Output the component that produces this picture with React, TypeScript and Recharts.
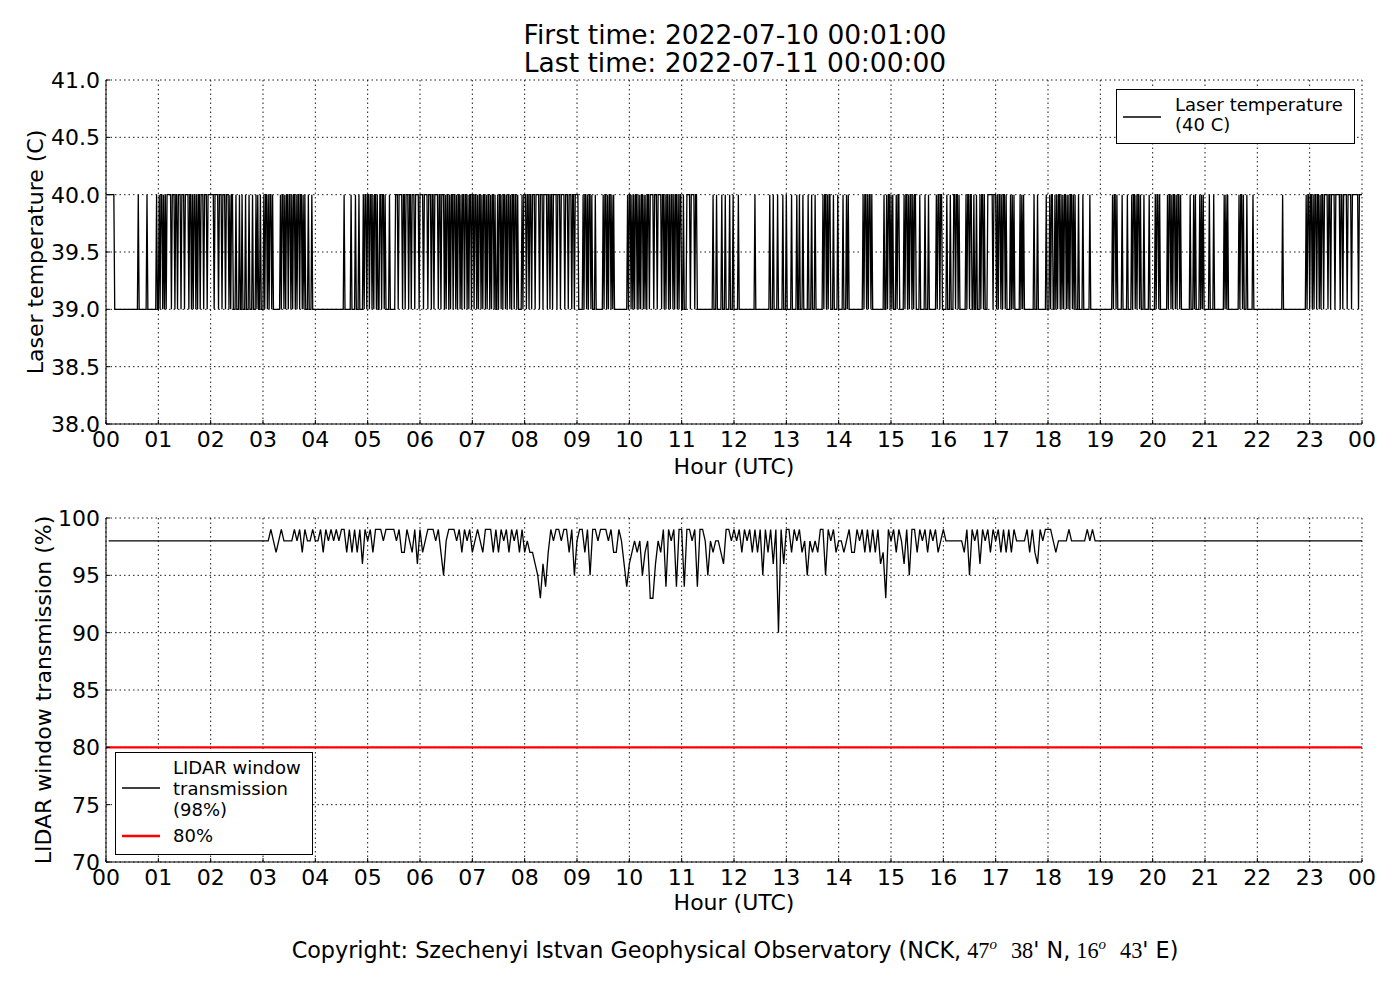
import { LineChart, Line, XAxis, YAxis, CartesianGrid, ReferenceLine, Legend } from 'recharts';

// one string per hour, one char per minute: '1' = 40 C, '0' = 39 C
const tempRows = [
  '111111111000000000000000000000000000100000000010000000000100',
  '101101010111110111011011101110111101101011010110111011101111',
  '111011110111011101110101100010001001000100010001000101001000',
  '101101011010000000010110101101101011010110110101000100010000',
  '000000000000000000000000000000001000000010000100010000101101',
  '101101011010011011010000100000011101111011011101101110111101',
  '111011110111011011110110111010110101101101011010110110101101',
  '101101011010110101101011010010110101101011010110110100001011',
  '101101101110111101110111101101101111011101111011101110110111',
  '100000101101011010001000000001011010110101000000000000000101',
  '101010110101011010101101111011101111011010110101101011010110',
  '010001111011110110000000000000000001000100000100010000100010',
  '000010000000000000000001000000000000000010001000010000010001',
  '000001000001001000100000100010001000000001011010110001000010',
  '000010001010000000000000000101101011010000000000000100101101',
  '010001011000001011010110101100001000001000100000000101101100',
  '000100010001101101000000010110110010010001011010001111110111',
  '010110101101000010101000000101010000000000010001000000000100',
  '010110010101101010110101011010100010000100000001000000000000',
  '000000000000010110100000100000100001011010110100010000010000',
  '001011010000000010110101101011010000000000100010100001010100',
  '000010000100000000000101010000000000001011010001000000100000',
  '000000000000000000000000000010000000000000000000000000010110',
  '110101101101011011110110111101111101101111011110111111101111',
];

// one string per hour, one char per 3 minutes: digit = transmission - 90 (%)
const transRows = [
  '88888888888888888888',
  '88888888888888888888',
  '88888888888888888888',
  '88987898888989798898',
  '89798989899797979698',
  '97999899998977987969',
  '78999897589998979897',
  '89879997979897989797',
  '87765364798998997958',
  '99795998999897798646',
  '78785783368794989499',
  '49989499858788769989',
  '89798979795979690969',
  '97989785878799598978',
  '87897798979797967398',
  '97986959979897989789',
  '88888887959896989798',
  '97979798888979769899',
  '98788889888888989888',
  '88888888888888888888',
  '88888888888888888888',
  '88888888888888888888',
  '88888888888888888888',
  '88888888888888888888',
];

const hourTicks = [0, 1, 2, 3, 4, 5, 6, 7, 8, 9, 10, 11, 12, 13, 14, 15, 16, 17, 18, 19, 20, 21, 22, 23, 24];
const tempTicks = [38, 38.5, 39, 39.5, 40, 40.5, 41];
const transTicks = [70, 75, 80, 85, 90, 95, 100];
const transThreshold = 80;

const toSeries = (rows: string[], base: number) =>
  rows.flatMap((row, h) =>
    row.split('').map((c, i) => ({ t: h + (i + 1) / row.length, v: base + Number(c) }))
  );

const tempData = toSeries(tempRows, 39);
const transData = toSeries(transRows, 90);

const FONT = '"DejaVu Sans", sans-serif';
const SERIF = '"Liberation Serif", serif';
const hourLabel = (h: number) => String(h % 24).padStart(2, '0');

const BottomTick = ({ x, y, payload }: any) => (
  <g>
    <line x1={x} y1={y} x2={x} y2={y - 4} stroke="#000" strokeWidth={1} />
    <text x={x} y={y + 23} textAnchor="middle" fontSize={22} fontFamily={FONT} fill="#000">
      {hourLabel(payload.value)}
    </text>
  </g>
);

const TopTick = ({ x, y }: any) => <line x1={x} y1={y} x2={x} y2={y + 4} stroke="#000" strokeWidth={1} />;

const RightTick = ({ x, y }: any) => <line x1={x} y1={y} x2={x - 4} y2={y} stroke="#000" strokeWidth={1} />;

const makeLeftTick = (fmt: (v: number) => string) => ({ x, y, payload }: any) => (
  <g>
    <line x1={x} y1={y} x2={x + 4} y2={y} stroke="#000" strokeWidth={1} />
    <text x={x - 6} y={y} dy="0.36em" textAnchor="end" fontSize={22} fontFamily={FONT} fill="#000">
      {fmt(payload.value)}
    </text>
  </g>
);

const TempTick = makeLeftTick((v) => v.toFixed(1));
const TransTick = makeLeftTick((v) => String(v));

const TempLegend = () => (
  <svg width={240} height={56} style={{ display: 'block' }}>
    <rect x={0.5} y={0.5} width={238} height={54} fill="#fff" stroke="#000" />
    <line x1={7} y1={28} x2={45} y2={28} stroke="#000" strokeWidth={1.4} />
    <text x={59} y={22} fontSize={18} fontFamily={FONT}>Laser temperature</text>
    <text x={59} y={42} fontSize={18} fontFamily={FONT}>(40 C)</text>
  </svg>
);

const TransLegend = () => (
  <svg width={200} height={104} style={{ display: 'block' }}>
    <rect x={0.5} y={0.5} width={197} height={102} fill="#fff" stroke="#000" />
    <line x1={7} y1={36} x2={45} y2={36} stroke="#000" strokeWidth={1.4} />
    <text x={58} y={22} fontSize={18} fontFamily={FONT}>LIDAR window</text>
    <text x={58} y={43} fontSize={18} fontFamily={FONT}>transmission</text>
    <text x={58} y={64} fontSize={18} fontFamily={FONT}>(98%)</text>
    <line x1={7} y1={84} x2={45} y2={84} stroke="#ff0000" strokeWidth={2.5} />
    <text x={58} y={90} fontSize={18} fontFamily={FONT}>80%</text>
  </svg>
);

const gridProps = { stroke: '#000', strokeWidth: 0.9, strokeDasharray: '1.5 3' };

export default function App() {
  return (
    <div style={{ position: 'absolute', left: 0, top: 0, width: 1400, height: 1000, background: '#fff', fontFamily: FONT }}>
      <div style={{ position: 'absolute', left: 0, top: 0 }}>
        <LineChart width={1400} height={490} data={tempData} margin={{ top: 80, right: 38, left: 36, bottom: 26 }}>
          <CartesianGrid {...gridProps} />
          <XAxis dataKey="t" type="number" domain={[0, 24]} ticks={hourTicks} interval={0} allowDataOverflow
            height={40} tickSize={0} tickMargin={0} axisLine={{ stroke: '#000' }} tickLine={false} tick={<BottomTick />} />
          <XAxis xAxisId="top" orientation="top" type="number" domain={[0, 24]} ticks={hourTicks} interval={0}
            height={0} tickSize={0} tickMargin={0} axisLine={{ stroke: '#000' }} tickLine={false} tick={<TopTick />} />
          <YAxis type="number" domain={[38, 41]} ticks={tempTicks} interval={0} allowDataOverflow
            width={70} tickSize={0} tickMargin={0} axisLine={{ stroke: '#000' }} tickLine={false} tick={<TempTick />} />
          <YAxis yAxisId="right" orientation="right" type="number" domain={[38, 41]} ticks={tempTicks} interval={0}
            width={0} tickSize={0} tickMargin={0} axisLine={{ stroke: '#000' }} tickLine={false} tick={<RightTick />} />
          <Line dataKey="v" type="linear" stroke="#000" strokeWidth={1.3} dot={false} isAnimationActive={false} />
          <Legend layout="vertical" align="center" verticalAlign="middle" content={<TempLegend />}
            wrapperStyle={{ left: 1116, top: 89, width: 240, height: 56 }} />
        </LineChart>
      </div>
      <div style={{ position: 'absolute', left: 0, top: 490 }}>
        <LineChart width={1400} height={430} data={transData} margin={{ top: 28, right: 38, left: 36, bottom: 18 }}>
          <CartesianGrid {...gridProps} />
          <XAxis dataKey="t" type="number" domain={[0, 24]} ticks={hourTicks} interval={0} allowDataOverflow
            height={40} tickSize={0} tickMargin={0} axisLine={{ stroke: '#000' }} tickLine={false} tick={<BottomTick />} />
          <XAxis xAxisId="top" orientation="top" type="number" domain={[0, 24]} ticks={hourTicks} interval={0}
            height={0} tickSize={0} tickMargin={0} axisLine={{ stroke: '#000' }} tickLine={false} tick={<TopTick />} />
          <YAxis type="number" domain={[70, 100]} ticks={transTicks} interval={0} allowDataOverflow
            width={70} tickSize={0} tickMargin={0} axisLine={{ stroke: '#000' }} tickLine={false} tick={<TransTick />} />
          <YAxis yAxisId="right" orientation="right" type="number" domain={[70, 100]} ticks={transTicks} interval={0}
            width={0} tickSize={0} tickMargin={0} axisLine={{ stroke: '#000' }} tickLine={false} tick={<RightTick />} />
          <ReferenceLine y={transThreshold} stroke="#ff0000" strokeWidth={2.2} />
          <Line dataKey="v" type="linear" stroke="#000" strokeWidth={1.3} dot={false} isAnimationActive={false} />
          <Legend layout="vertical" align="center" verticalAlign="middle" content={<TransLegend />}
            wrapperStyle={{ left: 115, top: 262, width: 200, height: 104 }} />
        </LineChart>
      </div>
      <svg width={1400} height={1000} style={{ position: 'absolute', left: 0, top: 0, pointerEvents: 'none' }}>
        <g fontFamily={FONT} fill="#000">
          <text x={735} y={44} fontSize={26.5} textAnchor="middle">First time: 2022-07-10 00:01:00</text>
          <text x={735} y={72} fontSize={26.5} textAnchor="middle">Last time: 2022-07-11 00:00:00</text>
          <text x={734} y={474} fontSize={22} textAnchor="middle">Hour (UTC)</text>
          <text x={734} y={910} fontSize={22} textAnchor="middle">Hour (UTC)</text>
          <text x={43} y={252} fontSize={22} textAnchor="middle" transform="rotate(-90 43 252)">Laser temperature (C)</text>
          <text x={51} y={690} fontSize={22} textAnchor="middle" transform="rotate(-90 51 690)">LIDAR window transmission (%)</text>
          <text x={735} y={958} fontSize={22.3} textAnchor="middle">
            Copyright: Szechenyi Istvan Geophysical Observatory (NCK,
            <tspan fontFamily={SERIF} dx={6}>47</tspan>
            <tspan fontFamily={SERIF} fontStyle="italic" fontSize={15} dy={-9}>o</tspan>
            <tspan fontFamily={SERIF} dy={9} dx={14}>38</tspan>
            <tspan>' N,</tspan>
            <tspan fontFamily={SERIF} dx={6}>16</tspan>
            <tspan fontFamily={SERIF} fontStyle="italic" fontSize={15} dy={-9}>o</tspan>
            <tspan fontFamily={SERIF} dy={9} dx={14}>43</tspan>
            <tspan>' E)</tspan>
          </text>
        </g>
      </svg>
    </div>
  );
}
